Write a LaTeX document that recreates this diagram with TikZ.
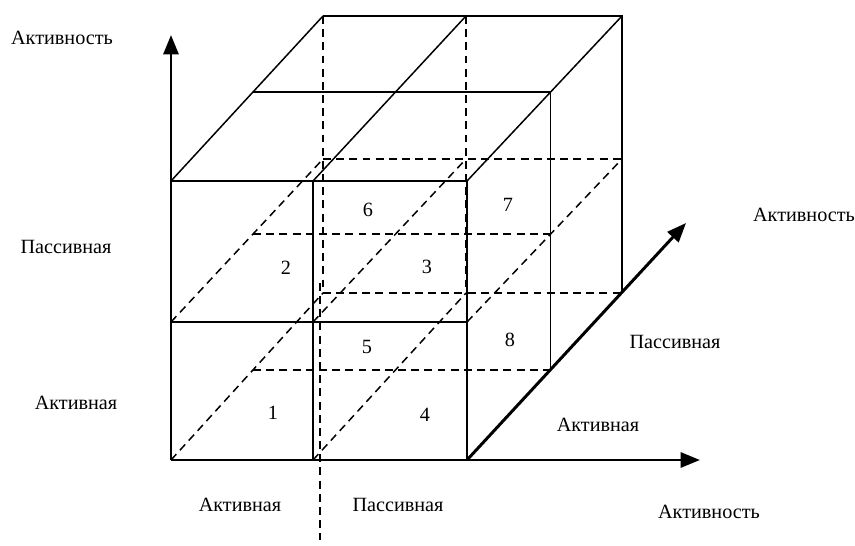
\documentclass[tikz,border=0pt]{standalone}
\usepackage{fontspec}
\setmainfont{Liberation Serif}
\usetikzlibrary{arrows.meta, calc}

\begin{document}
\begin{tikzpicture}[x=0.02cm, y=0.02cm, >={Triangle[length=11pt, width=8.5pt]},
  edge/.style={line width=0.85pt},
  hidden/.style={line width=0.85pt, dash pattern=on 4.5pt off 3pt},
  axis/.style={->, line width=1.7pt},
  lbl/.style={font=\fontsize{11.5}{13}\selectfont, inner sep=0pt},
  cell/.style={font=\fontsize{11.5}{13}\selectfont, inner sep=0pt}]
  \useasboundingbox (0,0) rectangle (855,545);
  % corners of the front and back faces
  \foreach \i/\x in {0/171, 1/313, 2/467}
    \foreach \j/\y in {0/85, 1/223, 2/364}
      \coordinate (F\i\j) at (\x,\y);
  \foreach \i/\x in {0/323, 1/466, 2/622}
    \foreach \j/\y in {0/252, 1/386, 2/529}
      \coordinate (B\i\j) at (\x,\y);
  % middle layer
  \foreach \i in {0,2}
    \foreach \j in {0,1,2}
      \coordinate (M\i\j) at ($(F\i\j)!0.54!(B\i\j)$);
  \coordinate (xtip) at (700,85);
  \coordinate (ytip) at (171,510);
  \coordinate (ztip) at (686,322);
  \coordinate (cutT) at (320,262);
  \coordinate (cutB) at (320,5);

  % hidden lines
  \draw[hidden] (B02) -- (B00) -- (B20);
  \draw[hidden] (B12) -- (B10);
  \draw[hidden] (B01) -- (B21);
  \draw[hidden] (M01) -- (M21);
  \draw[hidden] (M00) -- (M20);
  \foreach \k in {00, 01, 10, 11, 21}
    \draw[hidden] (F\k) -- (B\k);
  \draw[hidden] (cutT) -- (cutB);

  % visible edges
  \draw[edge] (F02) -- (F22) -- (F20);
  \draw[edge] (F10) -- (F12);
  \draw[edge] (F01) -- (F21);
  \draw[edge] (M02) -- (M22) -- (M20);
  \draw[edge] (B02) -- (B22) -- (B20);
  \foreach \i in {0, 1, 2}
    \draw[edge] (F\i2) -- (B\i2);

  % axes
  \draw[axis] (F00) -- (ytip);
  \draw[axis] (F00) -- (xtip);
  \draw[axis] (F20) -- (ztip);

  % cell numbers
  \node[cell] (c1) at (273,132) {1};
  \node[cell] (c2) at (286,277) {2};
  \node[cell] (c3) at (427,278) {3};
  \node[cell] (c4) at (425,130) {4};
  \node[cell] (c5) at (367,198) {5};
  \node[cell] (c6) at (368,335) {6};
  \node[cell] (c7) at (508,340) {7};
  \node[cell] (c8) at (510,205) {8};

  % axis labels
  \node[lbl] (yname) at (62,507) {Активность};
  \node[lbl] (yhigh) at (66,298) {Пассивная};
  \node[lbl] (ylow) at (76,142) {Активная};
  \node[lbl] (xlow) at (240,40) {Активная};
  \node[lbl] (xhigh) at (398,40) {Пассивная};
  \node[lbl] (xname) at (709,33) {Активность};
  \node[lbl] (zlow) at (598,120) {Активная};
  \node[lbl] (zhigh) at (675,203) {Пассивная};
  \node[lbl] (zname) at (804,330) {Активность};
\end{tikzpicture}
\end{document}
